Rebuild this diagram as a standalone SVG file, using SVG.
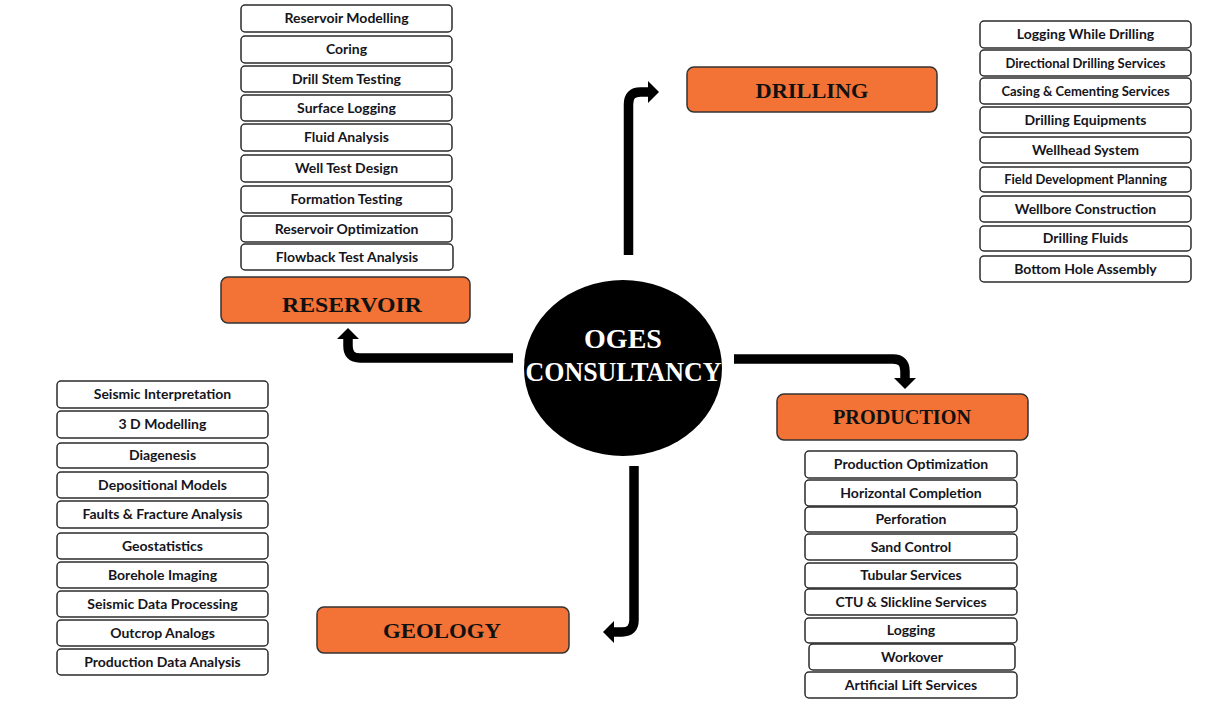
<svg xmlns="http://www.w3.org/2000/svg" width="1229" height="701" viewBox="0 0 1229 701">
<style>
.item rect{fill:#fff;stroke:#2b2b2b;stroke-width:1.5}
.item text{font-family:Lato,"Open Sans",sans-serif;font-weight:700;font-size:14px;fill:#151520;text-anchor:middle}
.item text.sm{font-size:13px}
.cat rect{fill:#F37236;stroke:#333;stroke-width:1.5}
.cat text{font-family:"Liberation Serif","DejaVu Serif",serif;font-weight:700;font-size:22px;fill:#111;text-anchor:middle}
.conn{fill:none;stroke:#000;stroke-width:9.5;stroke-linejoin:round}
</style>
<defs>
<marker id="ah" markerUnits="userSpaceOnUse" markerWidth="12" markerHeight="22" refX="0" refY="11" orient="auto" overflow="visible">
<path d="M0,0 L11,11 L0,22 z" fill="#000"/>
</marker>
</defs>
<rect width="1229" height="701" fill="#fff"/>

<g id="connectors">
<path class="conn" d="M628.5,255 V104 Q628.5,92 640.5,92 H648" marker-end="url(#ah)"/>
<path class="conn" d="M513,358 H360 Q348,358 348,346 V339" marker-end="url(#ah)"/>
<path class="conn" d="M734,359 H893 Q905,359 905,371 V378" marker-end="url(#ah)"/>
<path class="conn" d="M634,466 V620 Q634,632 622,632 H614" marker-end="url(#ah)"/>
</g>

<g id="center">
<ellipse cx="623" cy="368" rx="99" ry="88" fill="#000"/>
<text x="623" y="348" font-family="'Liberation Serif','DejaVu Serif',serif" font-weight="700" font-size="28" fill="#fff" text-anchor="middle">OGES</text>
<text x="623.5" y="381" font-family="'Liberation Serif','DejaVu Serif',serif" font-weight="700" font-size="28" fill="#fff" text-anchor="middle" textLength="196" lengthAdjust="spacingAndGlyphs">CONSULTANCY</text>
</g>

<g id="drilling" class="cat">
<rect x="687" y="67" width="250" height="45" rx="7"/>
<text x="812" y="98" textLength="113" lengthAdjust="spacingAndGlyphs">DRILLING</text>
</g>
<g id="reservoir" class="cat">
<rect x="221" y="277" width="249" height="46" rx="7"/>
<text x="352" y="312" textLength="140" lengthAdjust="spacingAndGlyphs">RESERVOIR</text>
</g>
<g id="production" class="cat">
<rect x="777" y="394" width="251" height="46" rx="7"/>
<text x="902" y="424" textLength="138" lengthAdjust="spacingAndGlyphs">PRODUCTION</text>
</g>
<g id="geology" class="cat">
<rect x="317" y="607" width="252" height="46" rx="7"/>
<text x="442" y="638" textLength="118" lengthAdjust="spacingAndGlyphs">GEOLOGY</text>
</g>

<g id="reservoir-items" class="item">
<rect x="241" y="5" width="211" height="27" rx="4"/><text x="346.5" y="23">Reservoir Modelling</text>
<rect x="241" y="36" width="211" height="27" rx="4"/><text x="346.5" y="54">Coring</text>
<rect x="241" y="66" width="211" height="26" rx="4"/><text x="346.5" y="83.5">Drill  Stem Testing</text>
<rect x="241" y="95" width="211" height="26" rx="4"/><text x="346.5" y="112.5">Surface Logging</text>
<rect x="241" y="124" width="211" height="27" rx="4"/><text x="346.5" y="142">Fluid  Analysis</text>
<rect x="241" y="155" width="211" height="27" rx="4"/><text x="346.5" y="173">Well Test Design</text>
<rect x="241" y="186" width="211" height="27" rx="4"/><text x="346.5" y="204">Formation  Testing</text>
<rect x="241" y="216" width="211" height="26" rx="4"/><text x="346.5" y="233.5">Reservoir Optimization</text>
<rect x="241" y="244" width="212" height="26" rx="4"/><text x="347" y="261.5">Flowback  Test Analysis</text>
</g>

<g id="drilling-items" class="item">
<rect x="980" y="21" width="211" height="27" rx="4"/><text x="1085.5" y="39">Logging While  Drilling</text>
<rect x="980" y="50" width="211" height="26" rx="4"/><text class="sm" x="1085.5" y="67.5">Directional Drilling Services</text>
<rect x="980" y="78" width="211" height="26" rx="4"/><text class="sm" x="1085.5" y="95.5">Casing &amp; Cementing Services</text>
<rect x="980" y="107" width="211" height="26" rx="4"/><text x="1085.5" y="124.5">Drilling  Equipments</text>
<rect x="980" y="137" width="211" height="26" rx="4"/><text x="1085.5" y="154.5">Wellhead  System</text>
<rect x="980" y="167" width="211" height="25" rx="4"/><text class="sm" x="1085.5" y="184">Field Development Planning</text>
<rect x="980" y="196" width="211" height="26" rx="4"/><text x="1085.5" y="213.5">Wellbore Construction</text>
<rect x="980" y="226" width="211" height="25" rx="4"/><text x="1085.5" y="243">Drilling  Fluids</text>
<rect x="980" y="256" width="211" height="26" rx="4"/><text x="1085.5" y="273.5">Bottom  Hole  Assembly</text>
</g>

<g id="geology-items" class="item">
<rect x="57" y="381" width="211" height="27" rx="4"/><text x="162.5" y="399">Seismic Interpretation</text>
<rect x="57" y="411" width="211" height="27" rx="4"/><text x="162.5" y="429">3 D Modelling</text>
<rect x="57" y="443" width="211" height="25" rx="4"/><text x="162.5" y="460">Diagenesis</text>
<rect x="57" y="472" width="211" height="26" rx="4"/><text x="162.5" y="489.5">Depositional  Models</text>
<rect x="57" y="501" width="211" height="27" rx="4"/><text x="162.5" y="519">Faults &amp; Fracture Analysis</text>
<rect x="57" y="533" width="211" height="26" rx="4"/><text x="162.5" y="550.5">Geostatistics</text>
<rect x="57" y="562" width="211" height="26" rx="4"/><text x="162.5" y="579.5">Borehole Imaging</text>
<rect x="57" y="591" width="211" height="26" rx="4"/><text x="162.5" y="608.5">Seismic Data Processing</text>
<rect x="57" y="620" width="211" height="26" rx="4"/><text x="162.5" y="637.5">Outcrop Analogs</text>
<rect x="57" y="649" width="211" height="26" rx="4"/><text x="162.5" y="666.5">Production  Data Analysis</text>
</g>

<g id="production-items" class="item">
<rect x="805" y="451" width="212" height="27" rx="4"/><text x="911" y="469">Production  Optimization</text>
<rect x="805" y="480" width="212" height="26" rx="4"/><text x="911" y="497.5">Horizontal  Completion</text>
<rect x="805" y="507" width="212" height="25" rx="4"/><text x="911" y="524">Perforation</text>
<rect x="805" y="534" width="212" height="26" rx="4"/><text x="911" y="551.5">Sand Control</text>
<rect x="805" y="563" width="212" height="25" rx="4"/><text x="911" y="580">Tubular  Services</text>
<rect x="805" y="589" width="212" height="26" rx="4"/><text x="911" y="606.5">CTU &amp; Slickline  Services</text>
<rect x="805" y="618" width="212" height="25" rx="4"/><text x="911" y="635">Logging</text>
<rect x="809" y="644" width="206" height="26" rx="4"/><text x="912" y="661.5">Workover</text>
<rect x="805" y="672" width="212" height="26" rx="4"/><text x="911" y="689.5">Artificial  Lift  Services</text>
</g>
</svg>
